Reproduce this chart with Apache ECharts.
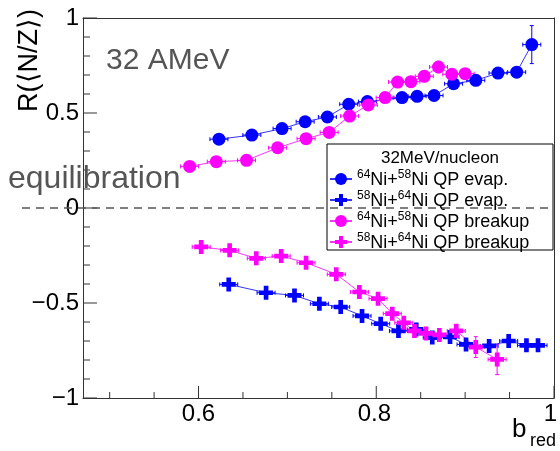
<!DOCTYPE html>
<html>
<head>
<meta charset="utf-8">
<script src="https://cdn.jsdelivr.net/npm/echarts@6/dist/echarts.min.js"></script>
<style>
html, body { margin: 0; padding: 0; background: #fff; }
#chart { width: 560px; height: 451px; }
</style>
</head>
<body>
<div id="chart"></div>
<script>
//64Ni+58Ni QP evap.
var evap64X = [0.623, 0.660, 0.694, 0.720, 0.745, 0.769, 0.790, 0.829, 0.846, 0.865, 0.887, 0.912, 0.937, 0.958, 0.975];
var evap64Y = [0.362, 0.384, 0.418, 0.454, 0.479, 0.546, 0.560, 0.581, 0.588, 0.592, 0.654, 0.672, 0.710, 0.715, 0.860];
var evap64Err = [0.01, 0.01, 0.01, 0.01, 0.01, 0.01, 0.01, 0.01, 0.01, 0.012, 0.015, 0.015, 0.02, 0.025, 0.1];
//58Ni+64Ni QP evap.
var evap58X = [0.634, 0.676, 0.708, 0.736, 0.760, 0.784, 0.805, 0.825, 0.845, 0.863, 0.883, 0.901, 0.927, 0.949, 0.969, 0.982];
var evap58Y = [-0.402, -0.446, -0.460, -0.504, -0.521, -0.568, -0.609, -0.647, -0.639, -0.682, -0.679, -0.718, -0.726, -0.700, -0.723, -0.723];
var evap58Err = [0.01, 0.01, 0.01, 0.01, 0.01, 0.01, 0.01, 0.01, 0.01, 0.012, 0.012, 0.015, 0.015, 0.015, 0.02, 0.02];
//64Ni+58Ni QP breakup
var brk64X = [0.590, 0.620, 0.654, 0.689, 0.721, 0.747, 0.770, 0.791, 0.810, 0.824, 0.839, 0.854, 0.870, 0.885, 0.900];
var brk64Y = [0.219, 0.244, 0.251, 0.317, 0.365, 0.398, 0.484, 0.542, 0.581, 0.663, 0.665, 0.693, 0.742, 0.704, 0.707];
var brk64Err = [0.01, 0.01, 0.01, 0.01, 0.01, 0.01, 0.01, 0.01, 0.012, 0.015, 0.015, 0.02, 0.03, 0.02, 0.02];
//58Ni+64Ni QP breakup
var brk58X = [0.603, 0.635, 0.665, 0.693, 0.721, 0.755, 0.781, 0.802, 0.818, 0.831, 0.843, 0.856, 0.871, 0.890, 0.912, 0.936];
var brk58Y = [-0.205, -0.223, -0.265, -0.253, -0.288, -0.349, -0.442, -0.477, -0.556, -0.604, -0.647, -0.660, -0.668, -0.647, -0.732, -0.797];
var brk58Err = [0.01, 0.01, 0.01, 0.01, 0.012, 0.012, 0.012, 0.015, 0.015, 0.015, 0.015, 0.02, 0.02, 0.035, 0.055, 0.08];

//坐标轴
var xMin = 0.47;
var xMax = 1.0;
var xMajorStart = 0.6;
var xMajorStep = 0.2;
var xMajorTicks = [0.6, 0.8, 1.0];
var xMinorTicks = [0.5, 0.55, 0.65, 0.7, 0.75, 0.85, 0.9, 0.95];
var yMin = -1;
var yMax = 1;
var yMajorTicks = [-1, -0.5, 0, 0.5, 1];
var yMinorTicks = [-0.9, -0.8, -0.7, -0.6, -0.4, -0.3, -0.2, -0.1, 0.1, 0.2, 0.3, 0.4, 0.6, 0.7, 0.8, 0.9];
var equilibrium = 0;

var seriesNames = ['64Ni+58Ni QP evap.', '58Ni+64Ni QP evap.', '64Ni+58Ni QP breakup', '58Ni+64Ni QP breakup'];
var legendLabels = {
    '64Ni+58Ni QP evap.': '{s|64}{n|Ni+}{s|58}{n|Ni QP evap.}',
    '58Ni+64Ni QP evap.': '{s|58}{n|Ni+}{s|64}{n|Ni QP evap.}',
    '64Ni+58Ni QP breakup': '{s|64}{n|Ni+}{s|58}{n|Ni QP breakup}',
    '58Ni+64Ni QP breakup': '{s|58}{n|Ni+}{s|64}{n|Ni QP breakup}'
};

var FONT = '"Liberation Sans", Arial, sans-serif';
var BLUE = '#0000ff';
var MAGENTA = '#ff00ff';
var AXIS = '#333';
var CROSS = 'path://M4,0h4v4h4v4h-4v4h-4v-4h-4v-4h4z';
//刻度长度: x主, x次, y主, y次
var TICK_LEN = [12, 6, 14, 7];

//绘图区
var GRID_LEFT = 83;
var GRID_RIGHT = 6;
var GRID_TOP = 18;
var GRID_BOTTOM = 53;
var plotW = 560 - GRID_LEFT - GRID_RIGHT;
//刻度轴从某个值开始时的左边距
var leftAt = function (v) {
    return GRID_LEFT + (v - xMin) / (xMax - xMin) * plotW;
};

var pairs = function (xs, ys) {
    return xs.map(function (x, i) { return [x, ys[i]]; });
};

var lineSeries = function (name, xs, ys, color, symbol, size) {
    return {
        name: name,
        type: 'line',
        data: pairs(xs, ys),
        symbol: symbol,
        symbolSize: size,
        itemStyle: { color: color },
        lineStyle: { color: color, width: 1, opacity: 0.8 },
        z: 3,
        emphasis: { disabled: true }
    };
};

//误差棒
var errorSeries = function (xs, ys, errs, color) {
    return {
        type: 'custom',
        name: 'err',
        data: xs.map(function (x, i) { return [x, ys[i], errs[i]]; }),
        encode: { x: 0, y: 1 },
        z: 2,
        silent: true,
        renderItem: function (params, api) {
            var c = api.coord([api.value(0), api.value(1)]);
            var top = api.coord([api.value(0), api.value(1) + api.value(2)]);
            var bot = api.coord([api.value(0), api.value(1) - api.value(2)]);
            var st = { stroke: color, lineWidth: 1 };
            var seg = function (x1, y1, x2, y2) {
                return { type: 'line', shape: { x1: x1, y1: y1, x2: x2, y2: y2 }, style: st };
            };
            return {
                type: 'group',
                children: [
                    seg(c[0] - 9, c[1], c[0] + 9, c[1]),
                    seg(c[0] - 9, c[1] - 2, c[0] - 9, c[1] + 2),
                    seg(c[0] + 9, c[1] - 2, c[0] + 9, c[1] + 2),
                    seg(c[0], top[1], c[0], bot[1]),
                    seg(c[0] - 2, top[1], c[0] + 2, top[1]),
                    seg(c[0] - 2, bot[1], c[0] + 2, bot[1])
                ]
            };
        }
    };
};

//内侧刻度线
var tickData = [];
xMajorTicks.forEach(function (v) { tickData.push([v, yMin, 0]); });
xMinorTicks.forEach(function (v) { tickData.push([v, yMin, 1]); });
yMajorTicks.forEach(function (v) { tickData.push([xMin, v, 2]); });
yMinorTicks.forEach(function (v) { tickData.push([xMin, v, 3]); });

var tickSeries = {
    type: 'custom',
    name: 'ticks',
    data: tickData,
    encode: { x: 0, y: 1 },
    z: 4,
    silent: true,
    clip: false,
    renderItem: function (params, api) {
        var c = api.coord([api.value(0), api.value(1)]);
        var kind = api.value(2);
        var len = TICK_LEN[kind];
        var shape = kind < 2
            ? { x1: c[0], y1: c[1], x2: c[0], y2: c[1] - len }
            : { x1: c[0], y1: c[1], x2: c[0] + len, y2: c[1] };
        return { type: 'line', shape: shape, style: { stroke: AXIS, lineWidth: 1 } };
    }
};

//只有一条边框线的轴
var frameAxis = function (gridIndex, position, min, max) {
    return {
        type: 'value', gridIndex: gridIndex, position: position, min: min, max: max, z: 4,
        axisLine: { show: true, onZero: false, lineStyle: { color: AXIS } },
        axisTick: { show: false },
        axisLabel: { show: false },
        splitLine: { show: false }
    };
};

var chart = echarts.init(document.getElementById('chart'));

var option = {
    animation: false,
    backgroundColor: '#fff',
    textStyle: { fontFamily: FONT },
    grid: [
        { left: GRID_LEFT, right: GRID_RIGHT, top: GRID_TOP, bottom: GRID_BOTTOM },
        { left: 22, right: GRID_RIGHT, top: GRID_TOP, bottom: GRID_BOTTOM },
        { left: leftAt(xMajorStart), right: GRID_RIGHT, top: GRID_TOP, bottom: GRID_BOTTOM }
    ],
    xAxis: [
        frameAxis(0, 'bottom', xMin, xMax),
        { type: 'value', gridIndex: 1, min: 0, max: 1, show: false },
        {
            //刻度标签
            type: 'value', gridIndex: 2, min: xMajorStart, max: xMax, interval: xMajorStep,
            axisLine: { show: false, onZero: false },
            axisTick: { show: false },
            axisLabel: { fontSize: 24, color: '#000', margin: 4, fontFamily: FONT },
            splitLine: { show: false }
        },
        frameAxis(0, 'top', xMin, xMax)
    ],
    yAxis: [
        {
            type: 'value', gridIndex: 0, min: yMin, max: yMax, interval: 0.5, z: 4,
            axisLine: { show: true, onZero: false, lineStyle: { color: AXIS } },
            axisTick: { show: false },
            axisLabel: {
                fontSize: 24, color: '#000', margin: 4, fontFamily: FONT,
                formatter: function (v) { return String(v).replace('-', '\u2212'); }
            },
            splitLine: { show: false }
        },
        { type: 'value', gridIndex: 1, min: yMin, max: yMax, show: false },
        { type: 'value', gridIndex: 2, min: yMin, max: yMax, show: false },
        frameAxis(0, 'right', yMin, yMax)
    ],
    legend: {
        data: seriesNames,
        orient: 'vertical',
        left: 329,
        top: 169,
        padding: 0,
        itemWidth: 22,
        itemHeight: 15,
        itemGap: 1,
        z: 6,
        formatter: function (name) { return legendLabels[name]; },
        textStyle: {
            color: '#000',
            rich: {
                n: { fontSize: 18, fontFamily: FONT, lineHeight: 20, verticalAlign: 'bottom', color: '#000' },
                s: { fontSize: 12, fontFamily: FONT, lineHeight: 12, verticalAlign: 'top', color: '#000' }
            }
        }
    },
    graphic: [
        { type: 'rect', z: 5, shape: { x: 327, y: 144, width: 226, height: 106 }, style: { fill: '#fff', stroke: '#000', lineWidth: 1 } },
        { type: 'text', z: 7, x: 440, y: 158, style: { text: '32MeV/nucleon', fontSize: 17, fontFamily: FONT, fill: '#000', align: 'center', verticalAlign: 'middle' } },
        { type: 'text', z: 7, x: 106, y: 61, style: { text: '32 AMeV', fontSize: 30, fontFamily: FONT, fill: '#555', verticalAlign: 'middle' } },
        { type: 'text', z: 7, x: 8, y: 179, style: { text: 'equilibration', fontSize: 32, fontFamily: FONT, fill: '#555', verticalAlign: 'middle' } },
        { type: 'text', z: 7, x: 30, y: 9, rotation: Math.PI / 2, style: { text: 'R(\u27e8N/Z\u27e9)', fontSize: 27, fontFamily: FONT, fill: '#000', align: 'right', verticalAlign: 'middle' } },
        { type: 'text', z: 7, x: 512, y: 430, style: { text: 'b', fontSize: 26, fontFamily: FONT, fill: '#000', verticalAlign: 'middle' } },
        { type: 'text', z: 7, x: 530, y: 441, style: { text: 'red', fontSize: 18, fontFamily: FONT, fill: '#000', verticalAlign: 'middle' } }
    ],
    series: [
        tickSeries,
        errorSeries(evap64X, evap64Y, evap64Err, BLUE),
        errorSeries(evap58X, evap58Y, evap58Err, BLUE),
        errorSeries(brk64X, brk64Y, brk64Err, MAGENTA),
        errorSeries(brk58X, brk58Y, brk58Err, MAGENTA),
        lineSeries(seriesNames[0], evap64X, evap64Y, BLUE, 'circle', 13),
        lineSeries(seriesNames[1], evap58X, evap58Y, BLUE, CROSS, 14),
        lineSeries(seriesNames[2], brk64X, brk64Y, MAGENTA, 'circle', 13),
        lineSeries(seriesNames[3], brk58X, brk58Y, MAGENTA, CROSS, 14),
        {
            //平衡线
            type: 'line',
            xAxisIndex: 1,
            yAxisIndex: 1,
            data: [[0, equilibrium], [1, equilibrium]],
            symbol: 'none',
            silent: true,
            z: 10,
            lineStyle: { color: '#555', width: 1.5, type: [8, 6] }
        }
    ]
};

chart.setOption(option);
</script>
</body>
</html>
